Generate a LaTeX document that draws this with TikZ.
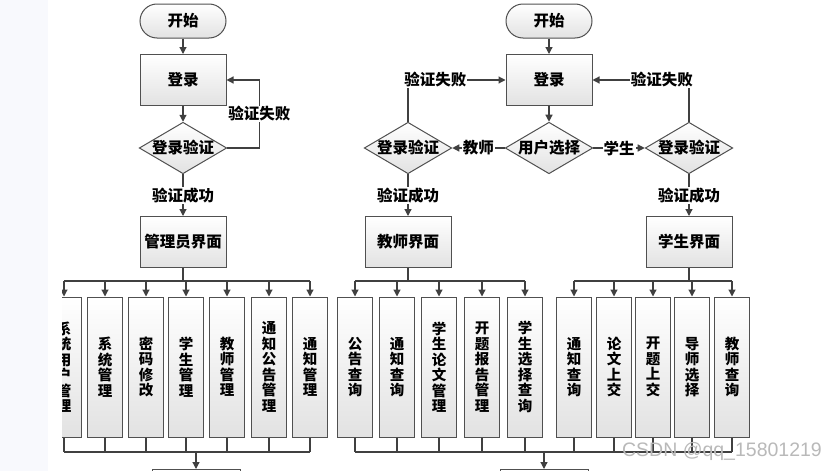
\documentclass[tikz,border=0pt]{standalone}
\usepackage{fontspec}
\setmainfont{Noto Sans CJK SC}
\newfontfamily\markfont{Liberation Sans}
\usepackage{xcolor}
\usetikzlibrary{shapes.geometric, arrows.meta, positioning}

\definecolor{linegray}{RGB}{64,64,64}
\definecolor{boxline}{RGB}{80,80,80}
\definecolor{boxgray}{RGB}{226,226,226}
\definecolor{leftbg}{RGB}{248,249,253}

\begin{document}
\begin{tikzpicture}[x=1pt, y=-1pt, font=\bfseries\fontsize{15.5}{17}\selectfont,
            box/.style={draw=boxline, line width=1pt, top color=white, bottom color=boxgray, minimum width=86pt, minimum height=51pt, align=center},
            term/.style={box, rounded corners=17pt, minimum height=34pt},
            dia/.style={draw=boxline, line width=1pt, diamond, aspect=1.7, minimum width=85pt, minimum height=50pt, inner sep=0pt, top color=white, bottom color=boxgray},
            sub/.style={box, minimum width=35pt, minimum height=140pt, inner sep=0pt, font=\bfseries\fontsize{14.5}{15.5}\selectfont},
            lbl/.style={fill=white, inner sep=1pt},
            line/.style={draw=linegray, line width=1.2pt},
            arr/.style={line, -{Triangle[length=7pt, width=7pt]}}]

            \useasboundingbox (0,0) rectangle (838,471);
            \fill[white] (0,0) rectangle (838,471);
            \fill[leftbg] (0,0) rectangle (48,471);

            \begin{scope}
            \clip (62,0) rectangle (838,471);

            % administrator
            \node[term] (astart) at (183,21) {开始};
            \node[box] (alogin) at (183,80) {登录};
            \node[dia] (achk) at (183,148) {登录验证};
            \node[box] (admin) at (183,242) {管理员界面};

            \draw[arr] (astart) -- (alogin);
            \draw[arr] (alogin) -- (achk);
            \draw[arr] (achk.east) -- ++(32,0) |- node[lbl, pos=0.25] {验证失败} (alogin.east);
            \draw[arr] (achk) -- node[lbl] {验证成功} (admin);

            \foreach \x/\t [count=\i] in {64/{系\\统\\用\\户\\管\\理}, 105/{系\\统\\管\\理}, 146/{密\\码\\修\\改},
                    186/{学\\生\\管\\理}, 227/{教\\师\\管\\理}, 269/{通\\知\\公\\告\\管\\理}, 310/{通\\知\\管\\理}}
                \node[sub] (a\i) at (\x,367) {\t};

            \coordinate (abus) at (183,281);
            \draw[line] (admin.south) -- (abus);
            \draw[line] (a1.north |- abus) -- (a7.north |- abus);
            \foreach \i in {1,...,7}
                \draw[arr] (a\i.north |- abus) -- (a\i.north);

            \coordinate (abot) at (196,452);
            \node[box, minimum width=88pt, anchor=north] (anext) at (196,469) {};
            \foreach \i in {1,...,7}
                \draw[line] (a\i.south) -- (a\i.south |- abot);
            \draw[line] (a1.south |- abot) -- (a7.south |- abot);
            \draw[arr] (abot) -- (anext.north);

            % teacher and student
            \node[term] (start) at (549,21) {开始};
            \node[box] (login) at (549,80) {登录};
            \node[dia] (choice) at (549,148) {用户选择};
            \node[dia] (tchk) at (408,148) {登录验证};
            \node[dia] (schk) at (689,148) {登录验证};
            \node[box] (teacher) at (408,242) {教师界面};
            \node[box] (student) at (689,242) {学生界面};

            \draw[arr] (start) -- (login);
            \draw[arr] (login) -- (choice);
            \draw[arr] (choice.west) -- node[lbl] {教师} (tchk.east);
            \draw[arr] (choice.east) -- node[lbl] {学生} (schk.west);
            \draw[arr] (tchk.north) |- node[lbl, pos=0.64] {验证失败} (login.west);
            \draw[arr] (schk.north) |- node[lbl, pos=0.64] {验证失败} (login.east);
            \draw[arr] (tchk) -- node[lbl] {验证成功} (teacher);
            \draw[arr] (schk) -- node[lbl] {验证成功} (student);

            \foreach \x/\t [count=\i] in {355/{公\\告\\查\\询}, 397/{通\\知\\查\\询}, 439/{学\\生\\论\\文\\管\\理},
                    482/{开\\题\\报\\告\\管\\理}, 525/{学\\生\\选\\择\\查\\询}}
                \node[sub] (t\i) at (\x,367) {\t};
            \foreach \x/\t [count=\i] in {574/{通\\知\\查\\询}, 614/{论\\文\\上\\交}, 653/{开\\题\\上\\交},
                    692/{导\\师\\选\\择}, 732/{教\\师\\查\\询}}
                \node[sub] (s\i) at (\x,367) {\t};

            \coordinate (tbus) at (408,281);
            \draw[line] (teacher.south) -- (tbus);
            \draw[line] (t1.north |- tbus) -- (t5.north |- tbus);
            \foreach \i in {1,...,5}
                \draw[arr] (t\i.north |- tbus) -- (t\i.north);

            \coordinate (sbus) at (689,281);
            \draw[line] (student.south) -- (sbus);
            \draw[line] (s1.north |- sbus) -- (s5.north |- sbus);
            \foreach \i in {1,...,5}
                \draw[arr] (s\i.north |- sbus) -- (s\i.north);

            \coordinate (mbot) at (544,452);
            \node[box, minimum width=88pt, anchor=north] (mnext) at (544,469) {};
            \foreach \i in {1,...,5} {
                \draw[line] (t\i.south) -- (t\i.south |- mbot);
                \draw[line] (s\i.south) -- (s\i.south |- mbot);
            }
            \draw[line] (t1.south |- mbot) -- (s5.south |- mbot);
            \draw[arr] (mbot) -- (mnext.north);

            \node[text=gray!55, font=\markfont\fontsize{19.5}{20}\selectfont] (mark) at (722,451) {CSDN @qq\_15801219};
            \end{scope}
        \end{tikzpicture}
\end{document}
